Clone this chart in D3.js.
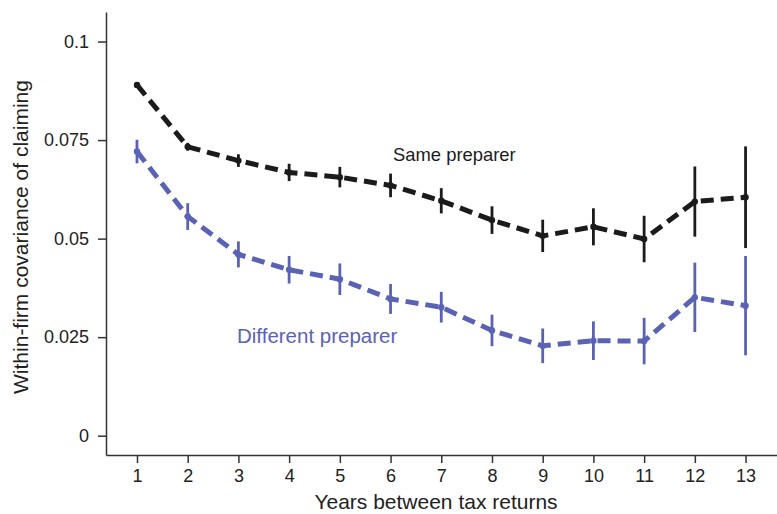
<!DOCTYPE html>
<html lang="en">
<head>
    <meta charset="UTF-8">
    <title>Within-firm covariance of claiming</title>
    <script src="https://d3js.org/d3.v7.min.js"></script>
    <style>
        body { margin: 0; background: #fff; }
        svg { display: block; font-family: "Liberation Sans", Arial, Helvetica, sans-serif; }
        .axis path, .axis line { stroke: #333; stroke-width: 1.5; }
        .axis text { fill: #222; font-size: 18px; }
    </style>
</head>
<body>
    <svg width="777" height="514"></svg>

    <script>
        // data
        const years = [1, 2, 3, 4, 5, 6, 7, 8, 9, 10, 11, 12, 13];
        const sameMean = [0.0890, 0.0733, 0.0698, 0.0668, 0.0656, 0.0635, 0.0596, 0.0547, 0.0507, 0.0530, 0.0499, 0.0594, 0.0605];
        const sameErr = [0.0007, 0.0010, 0.0016, 0.0022, 0.0026, 0.0030, 0.0032, 0.0035, 0.0041, 0.0047, 0.0059, 0.0089, 0.0129];
        const diffMean = [0.0721, 0.0556, 0.0460, 0.0421, 0.0397, 0.0347, 0.0326, 0.0267, 0.0228, 0.0241, 0.0240, 0.0351, 0.0330];
        const diffErr = [0.0030, 0.0034, 0.0033, 0.0035, 0.0040, 0.0038, 0.0039, 0.0040, 0.0044, 0.0049, 0.0059, 0.0088, 0.0126];
        const yTicks = [0, 0.025, 0.05, 0.075, 0.1];

        const series = [
            { name: 'Same preparer', mean: sameMean, err: sameErr, color: '#1b1b1b' },
            { name: 'Different preparer', mean: diffMean, err: diffErr, color: '#5a62b3' }
        ];

        let svg = d3.select('svg');

        let x = d3.scaleLinear().domain([0.389, 13.62]).range([106, 777]);
        let y = d3.scaleLinear().domain([-0.0049, 0.1075]).range([455, 12]);

        svg.append('g').attr('class', 'axis')
            .attr('transform', 'translate(0 455)')
            .call(d3.axisBottom(x).tickValues(years).tickSize(8).tickSizeOuter(0).tickPadding(6).tickFormat(d => d));

        svg.append('g').attr('class', 'axis')
            .attr('transform', 'translate(106 0)')
            .call(d3.axisLeft(y).tickValues(yTicks).tickSize(8).tickSizeOuter(0).tickPadding(9).tickFormat(d => d));

        svg.selectAll('.axis .domain').attr('stroke-width', 1.6);

        // axis titles
        svg.append('text')
            .attr('x', 436).attr('y', 509)
            .attr('text-anchor', 'middle')
            .style('font-size', '21px').style('fill', '#222')
            .text('Years between tax returns');

        svg.append('text')
            .attr('transform', 'translate(28 237) rotate(-90)')
            .attr('text-anchor', 'middle')
            .style('font-size', '21px').style('fill', '#222')
            .text('Within-firm covariance of claiming');

        let line = d3.line().x((d, i) => x(years[i])).y(d => y(d));

        series.forEach(s => {
            let g = svg.append('g');

            g.selectAll('line').data(s.mean).enter().append('line')
                .attr('x1', (d, i) => x(years[i]))
                .attr('x2', (d, i) => x(years[i]))
                .attr('y1', (d, i) => y(d - s.err[i]))
                .attr('y2', (d, i) => y(d + s.err[i]))
                .style('stroke', s.color)
                .style('stroke-width', 2.8);

            g.append('path').datum(s.mean)
                .attr('d', line)
                .style('fill', 'none')
                .style('stroke', s.color)
                .style('stroke-width', 5)
                .style('stroke-dasharray', '13 7');

            g.selectAll('circle').data(s.mean).enter().append('circle')
                .attr('cx', (d, i) => x(years[i]))
                .attr('cy', d => y(d))
                .attr('r', 3.2)
                .style('fill', s.color);
        });

        // series labels
        svg.append('text')
            .attr('x', 393).attr('y', 161)
            .style('font-size', '18.4px').style('fill', '#1b1b1b')
            .text('Same preparer');

        svg.append('text')
            .attr('x', 237).attr('y', 343)
            .style('font-size', '20.5px').style('fill', '#5a62b3')
            .text('Different preparer');
    </script>
</body>
</html>
